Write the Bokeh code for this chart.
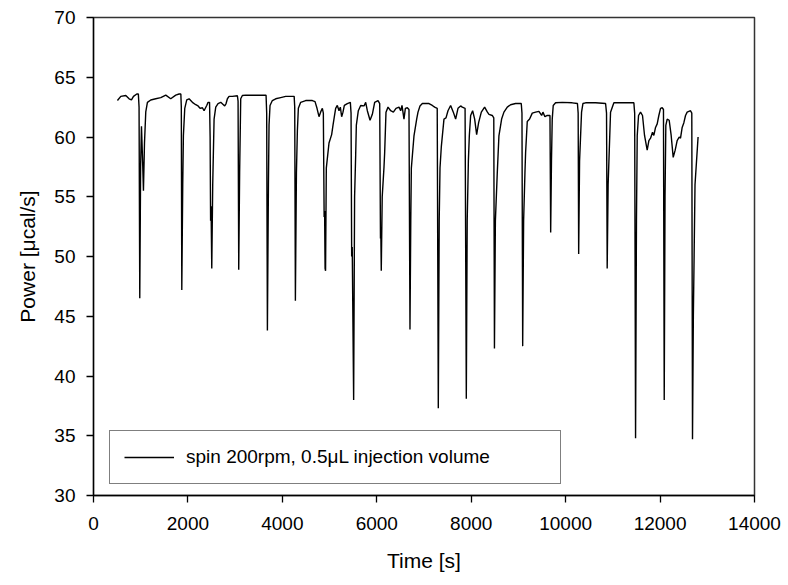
from bokeh.plotting import figure
from bokeh.models import Range1d, Legend, LegendItem, FixedTicker
from bokeh.embed import file_html
from bokeh.resources import INLINE

# ---- data ----
time_s = [
    507, 578, 684, 754, 804, 847, 917, 950, 965, 980, 998, 1016, 1040, 1058, 1080,
    1107, 1142, 1213, 1319, 1425, 1531, 1636, 1742, 1813, 1850, 1860, 1870, 1890,
    1904, 1933, 1975, 2024, 2095, 2166, 2215, 2257, 2307, 2342, 2398, 2427, 2458,
    2470, 2480, 2490, 2505, 2525, 2554, 2589, 2638, 2695, 2751, 2779, 2808, 2836,
    2871, 2942, 3048, 3062, 3076, 3095, 3118, 3153, 3224, 3435, 3655, 3668, 3683,
    3705, 3718, 3739, 3788, 3859, 3965, 4071, 4250, 4262, 4276, 4298, 4318, 4339,
    4388, 4494, 4635, 4692, 4734, 4776, 4812, 4847, 4868, 4885, 4895, 4905, 4915,
    4931, 4988, 5044, 5073, 5101, 5129, 5164, 5200, 5228, 5256, 5284, 5313, 5376,
    5440, 5455, 5468, 5480, 5510, 5530, 5553, 5567, 5609, 5659, 5730, 5765, 5800,
    5857, 5906, 5955, 6026, 6062, 6078, 6085, 6095, 6115, 6153, 6167, 6195, 6238,
    6294, 6351, 6407, 6471, 6506, 6534, 6576, 6605, 6647, 6682, 6703, 6720, 6732,
    6788, 6845, 6873, 6915, 6965, 7106, 7176, 7226, 7280, 7303, 7322, 7339, 7367,
    7423, 7466, 7508, 7564, 7621, 7670, 7720, 7776, 7811, 7870, 7896, 7915, 7940,
    7960, 7988, 8030, 8073, 8115, 8157, 8214, 8284, 8340, 8376, 8446, 8478, 8492,
    8512, 8552, 8587, 8644, 8693, 8764, 8834, 8940, 9060, 9075, 9090, 9110, 9138,
    9152, 9187, 9237, 9293, 9364, 9434, 9491, 9519, 9561, 9611, 9668, 9683, 9700,
    9716, 9737, 9787, 9928, 10140, 10250, 10265, 10276, 10295, 10337, 10366, 10422,
    10634, 10846, 10866, 10880, 10900, 10951, 11001, 11022, 11445, 11462, 11481,
    11500, 11516, 11544, 11586, 11628, 11671, 11727, 11763, 11798, 11840, 11868,
    11904, 11939, 11974, 12010, 12045, 12072, 12088, 12105, 12122, 12151, 12193,
    12235, 12278, 12320, 12362, 12405, 12433, 12468, 12504, 12539, 12574, 12645,
    12672, 12687, 12705, 12740, 12805,
]
power_ucal_s = [
    63.05, 63.40, 63.47, 63.20, 63.10, 63.40, 63.60, 63.60, 62.5, 46.5, 57.5, 60.9, 58.0, 55.5, 59.5,
    62.1, 62.9, 63.1, 63.2, 63.3, 63.5, 63.2, 63.5, 63.6, 63.6, 62.5, 47.2, 56.0,
    60.1, 62.4, 63.1, 63.2, 62.9, 62.7, 62.6, 62.4, 62.45, 62.2, 62.64, 62.9, 62.9,
    60.0, 53.0, 54.2, 49.0, 56.0, 61.5, 62.5, 62.8, 62.9, 62.7, 62.6, 62.8, 63.2,
    63.4, 63.4, 63.45, 63.0, 48.9, 57.0, 63.2, 63.47, 63.5, 63.5, 63.5, 62.0, 43.8,
    56.0, 61.0, 62.64, 63.05, 63.2, 63.3, 63.4, 63.4, 62.5, 46.3, 57.0, 60.5, 62.4,
    62.9, 63.05, 63.05, 62.96, 62.4, 61.7, 62.1, 62.4, 62.0, 53.3, 53.8, 49.0, 48.8,
    57.4, 59.5, 60.2, 61.0, 61.7, 62.4, 62.64, 62.2, 62.5, 61.7, 62.08, 62.64, 62.8,
    62.9, 62.0, 50.0, 50.8, 38.0, 55.0, 58.5, 61.0, 62.2, 62.64, 62.6, 62.9, 62.2,
    61.4, 61.9, 62.9, 63.05, 62.8, 51.5, 52.2, 48.8, 55.0, 57.5, 58.7, 62.08, 62.5,
    62.2, 62.08, 62.4, 62.5, 62.2, 62.64, 61.5, 62.4, 62.45, 62.3, 43.9, 53.0, 57.4,
    60.1, 61.5, 62.08, 62.6, 62.8, 62.8, 62.64, 62.5, 62.4, 37.3, 53.0, 57.4, 59.2,
    61.5, 61.6, 62.2, 62.64, 62.08, 61.5, 62.4, 62.6, 62.5, 62.4, 38.1, 53.0, 58.0,
    60.1, 61.8, 62.2, 61.5, 60.2, 61.2, 62.08, 62.5, 62.1, 61.9, 61.8, 61.6, 42.3,
    53.0, 57.0, 60.1, 61.5, 62.08, 62.5, 62.7, 62.8, 62.8, 62.0, 42.5, 53.0, 57.0,
    58.7, 61.3, 61.5, 62.0, 62.08, 62.15, 61.8, 62.08, 61.7, 61.8, 61.8, 52.0, 58.0,
    61.5, 62.64, 62.86, 62.9, 62.86, 62.8, 62.0, 50.2, 58.0, 62.08, 62.8, 62.86,
    62.86, 62.8, 62.0, 49.0, 56.0, 62.08, 62.64, 62.86, 62.86, 62.0, 34.8,
    53.0, 60.1, 61.8, 62.08, 61.8, 60.13, 58.9, 59.7, 59.9, 60.4, 60.13,
    60.8, 61.1, 61.8, 62.4, 62.45, 62.3, 38.0, 55.0, 60.97, 61.5, 61.4,
    60.13, 58.3, 58.9, 59.7, 60.0, 59.9, 60.8, 61.2, 61.8, 62.08, 62.2,
    62.0, 34.7, 45.0, 56.0, 60.0,
]
x_ticks = [0, 2000, 4000, 6000, 8000, 10000, 12000, 14000]
y_ticks = [30, 35, 40, 45, 50, 55, 60, 65, 70]
series_label = "spin 200rpm, 0.5μL injection volume"
x_title = "Time [s]"
y_title = "Power [μcal/s]"

FONT = "Liberation Sans"

p = figure(
    width=788, height=585,
    x_range=Range1d(0, 14000), y_range=Range1d(30, 70),
    output_backend="svg", toolbar_location=None,
    min_border_left=93, min_border_right=34,
    min_border_top=17, min_border_bottom=90,
    background_fill_color="white", border_fill_color="white",
)
p.xgrid.visible = False
p.ygrid.visible = False
p.outline_line_color = "#333333"
p.outline_line_width = 1.5

r = p.line(time_s, power_ucal_s, line_color="black", line_width=1.4)

for ax, ticks in ((p.xaxis[0], x_ticks), (p.yaxis[0], y_ticks)):
    ax.ticker = FixedTicker(ticks=ticks)
    ax.axis_line_color = "black"
    ax.axis_line_width = 1.3
    ax.major_tick_line_color = "black"
    ax.major_tick_line_width = 1.3
    ax.major_tick_in = 0
    ax.major_tick_out = 7
    ax.minor_tick_line_color = None
    ax.major_label_text_font = FONT
    ax.major_label_text_font_size = "19px"
    ax.major_label_text_color = "black"
    ax.axis_label_text_font = FONT
    ax.axis_label_text_font_size = "21px"
    ax.axis_label_text_font_style = "normal"
    ax.axis_label_text_color = "black"

p.xaxis.axis_label = x_title
p.yaxis.axis_label = y_title
p.xaxis.major_label_standoff = 14
p.xaxis.axis_label_standoff = 16
p.yaxis.major_label_standoff = 11
p.yaxis.axis_label_standoff = 12

legend = Legend(
    items=[LegendItem(label=series_label, renderers=[r])],
    location=(16, 11), margin=0, padding=14,
    glyph_width=50, glyph_height=24, label_height=24, label_width=360,
    label_standoff=12,
    label_text_font=FONT, label_text_font_size="19px", label_text_color="black",
    border_line_color="black", border_line_width=1.3,
    background_fill_color="white", background_fill_alpha=1.0,
)
p.add_layout(legend)

open("out.html", "w").write(file_html(p, INLINE))
